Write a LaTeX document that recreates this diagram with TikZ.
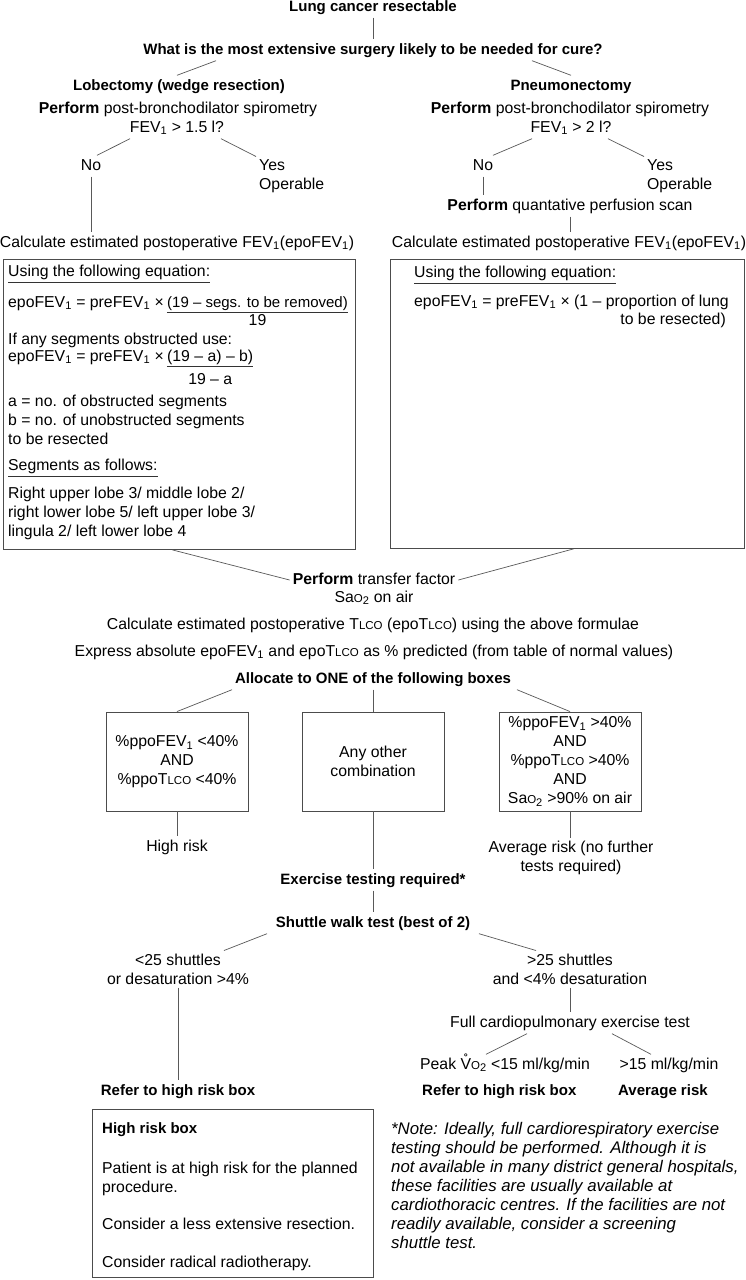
\documentclass[tikz,border=0pt]{standalone}
\usepackage{fontspec}
\setmainfont{Liberation Sans}
\usetikzlibrary{calc}
\newcommand\fsz{\fontsize{15.8}{19}\selectfont}
\newcommand\bsz{\fontsize{15}{19}\selectfont\bfseries}
\newcommand\nsz{\fontsize{16.8}{19}\selectfont}
\newcommand\smc[1]{{\fontsize{11.5}{12}\selectfont #1}}
\newcommand\tlco{T\smc{LCO}}
\newcommand\sao{Sa\smc{O}\textsubscript{2}}
\newcommand\vring{V\char"030A}
\begin{document}
\begin{tikzpicture}[x=1pt,y=-1pt,
  txt/.style={font=\fsz, inner sep=3pt, text height=11.5pt, text depth=3.5pt},
  btxt/.style={font=\bsz, inner sep=3pt, text height=11.5pt, text depth=3.5pt},
  mtxt/.style={font=\fsz, inner sep=0pt},
  lnk/.style={draw=black!65, line width=0.7pt},
  ulin/.style={draw=black!80, line width=0.7pt},
  boxs/.style={draw=black!70, line width=0.9pt, inner sep=0pt}]
\useasboundingbox (0,0) rectangle (746,1280);
\fill[white] (0,0) rectangle (746,1280);
% top
\node[btxt] (lcr) at (373,7) {Lung cancer resectable};
\node[btxt] (what) at (373,50) {What is the most extensive surgery likely to be needed for cure?};
\node[btxt] (lob) at (179,86) {Lobectomy (wedge resection)};
\node[btxt] (pneu) at (571,86) {Pneumonectomy};
\draw[lnk] (lcr) -- (what);
\draw[lnk] ([xshift=-157pt]what.south) -- ([xshift=-2pt]lob.north);
\draw[lnk] ([xshift=159pt]what.south) -- (pneu.north);
% left branch
\node[txt] (pfl) at (178,109) {\textbf{Perform} post-bronchodilator spirometry};
\node[txt] (fevl) at (177,128) {FEV\textsubscript{1} > 1.5 l?};
\node[txt] (nol) at (91,166) {No};
\node[mtxt, align=left, anchor=north west, inner sep=3pt] (yesl) at (256,156.5) {Yes\\Operable};
\node[txt] (calcl) at (177,243) {Calculate estimated postoperative FEV\textsubscript{1}(epoFEV\textsubscript{1})};
\draw[lnk] ([xshift=-47pt]fevl.south) -- ([xshift=6pt]nol.north);
\draw[lnk] ([xshift=44pt]fevl.south) -- (yesl.north west);
\draw[lnk] (nol.south) -- (nol.south |- calcl.north);
% right branch
\node[txt] (pfr) at (570,109) {\textbf{Perform} post-bronchodilator spirometry};
\node[txt] (fevr) at (571,128) {FEV\textsubscript{1} > 2 l?};
\node[txt] (nor) at (483,166) {No};
\node[mtxt, align=left, anchor=north west, inner sep=3pt] (yesr) at (644,156.5) {Yes\\Operable};
\node[txt] (perf) at (570,206) {\textbf{Perform} quantative perfusion scan};
\node[txt] (calcr) at (569,243) {Calculate estimated postoperative FEV\textsubscript{1}(epoFEV\textsubscript{1})};
\draw[lnk] ([xshift=-39pt]fevr.south) -- ([xshift=10pt]nor.north);
\draw[lnk] ([xshift=37pt]fevr.south) -- (yesr.north west);
\draw[lnk] (nor.south) -- (nor.south |- perf.north);
\draw[lnk] (perf.south) -- (perf.south |- calcr.north);
% left box
\node[boxs, minimum width=352pt, minimum height=290pt, anchor=north west] (lbox) at (3,259) {};
\node[txt, inner sep=0pt, anchor=west] (ul1) at (8,272) {Using the following equation:};
\draw[ulin] ([yshift=-3pt]ul1.south west) -- ([yshift=-3pt]ul1.south east);
\node[txt, inner sep=0pt, anchor=west] (eq1) at (8,303) {epoFEV\textsubscript{1} = preFEV\textsubscript{1} ×};
\node[txt, inner sep=0pt, anchor=west, font=\fontsize{15}{19}\selectfont] (num1) at ([xshift=3pt]eq1.east) {(19 – segs. to be removed)};
\draw[ulin] ([yshift=-1.5pt]num1.south west) -- ([yshift=-1.5pt]num1.south east);
\node[txt, inner sep=0pt] (den1) at ($(num1.center)+(0,18)$) {19};
\node[txt, inner sep=0pt, anchor=west] (ifany) at (8,340) {If any segments obstructed use:};
\node[txt, inner sep=0pt, anchor=west] (eq2) at (8,357) {epoFEV\textsubscript{1} = preFEV\textsubscript{1} ×};
\node[txt, inner sep=0pt, anchor=west] (num2) at ([xshift=3pt]eq2.east) {(19 – a) – b)};
\draw[ulin] ([yshift=-1.5pt]num2.south west) -- ([yshift=-1.5pt]num2.south east);
\node[txt, inner sep=0pt] (den2) at ($(num2.center)+(0,23)$) {19 – a};
\node[mtxt, align=left, anchor=north west] (defs) at (8,394.5) {a = no. of obstructed segments\\b = no. of unobstructed segments\\to be resected};
\node[txt, inner sep=0pt, anchor=west] (ul2) at (8,466) {Segments as follows:};
\draw[ulin] ([yshift=-3pt]ul2.south west) -- ([yshift=-3pt]ul2.south east);
\node[mtxt, align=left, anchor=north west] (segs) at (8,486.5) {Right upper lobe 3/ middle lobe 2/\\right lower lobe 5/ left upper lobe 3/\\lingula 2/ left lower lobe 4};
% right box
\node[boxs, minimum width=354pt, minimum height=289pt, anchor=north west] (rbox) at (390,259) {};
\node[txt, inner sep=0pt, anchor=west] (ul3) at (414,273) {Using the following equation:};
\draw[ulin] ([yshift=-3pt]ul3.south west) -- ([yshift=-3pt]ul3.south east);
\node[txt, inner sep=0pt, anchor=west] (eq3) at (414,302) {epoFEV\textsubscript{1} = preFEV\textsubscript{1} × (1 – proportion of lung};
\node[txt, inner sep=0pt, anchor=east] (eq3b) at (726,320) {to be resected)};
% transfer factor
\node[txt] (ptf) at (374,580) {\textbf{Perform} transfer factor};
\draw[lnk] ([xshift=-7pt]lbox.south) -- (ptf.west);
\draw[lnk] ([xshift=6pt]rbox.south) -- (ptf.east);
\node[txt] (sao) at (374,598) {\sao{} on air};
\node[txt] (calc2) at (373,625) {Calculate estimated postoperative \tlco{} (epo\tlco) using the above formulae};
\node[txt] (expr) at (374,652) {Express absolute epoFEV\textsubscript{1} and epo\tlco{} as \% predicted (from table of normal values)};
\node[btxt] (alloc) at (373,679) {Allocate to ONE of the following boxes};
% three boxes
\node[boxs, font=\fsz, align=center, minimum width=142pt, minimum height=99pt] (c1) at (177,761.5) {\%ppoFEV\textsubscript{1} <40\%\\AND\\\%ppo\tlco{} <40\%};
\node[boxs, font=\fsz, align=center, minimum width=142pt, minimum height=99pt] (c2) at (373,761.5) {Any other\\combination};
\node[boxs, font=\fsz, align=center, minimum width=142pt, minimum height=99pt] (c3) at (570,761.5) {\%ppoFEV\textsubscript{1} >40\%\\AND\\\%ppo\tlco{} >40\%\\AND\\\sao{} >90\% on air};
\draw[lnk] ([xshift=-141pt]alloc.south) -- (c1.north);
\draw[lnk] (alloc.south) -- (c2.north);
\draw[lnk] ([xshift=144pt]alloc.south) -- (c3.north);
\node[txt] (hr) at (177,847) {High risk};
\draw[lnk] (c1.south) -- (hr.north);
\node[mtxt, align=center, anchor=north, inner sep=3pt] (avg) at (571,837.5) {Average risk (no further\\tests required)};
\draw[lnk] (c3.south) -- (c3.south |- avg.north);
\node[btxt] (ext) at (373,880) {Exercise testing required*};
\draw[lnk] (c2.south) -- (ext.north);
\node[btxt] (swt) at (373,923) {Shuttle walk test (best of 2)};
\draw[lnk] (ext.south) -- (swt.north);
% shuttle branches
\node[mtxt, align=center, anchor=north, inner sep=3pt] (l25) at (178,950.5) {<25 shuttles\\or desaturation >4\%};
\node[mtxt, align=center, anchor=north, inner sep=3pt] (g25) at (570,950.5) {>25 shuttles\\and <4\% desaturation};
\draw[lnk] ([xshift=-106pt]swt.south) -- ([xshift=46pt]l25.north);
\draw[lnk] ([xshift=106pt]swt.south) -- ([xshift=-34pt]g25.north);
\node[btxt] (ref1) at (178,1091) {Refer to high risk box};
\draw[lnk] (l25.south) -- (ref1.north);
\node[txt] (fcp) at (570,1023) {Full cardiopulmonary exercise test};
\draw[lnk] (g25.south) -- (fcp.north);
\node[txt] (peak) at (505,1065) {Peak \vring{}\smc{O}\textsubscript{2} <15 ml/kg/min};
\node[txt] (gt15) at (669,1065) {>15 ml/kg/min};
\draw[lnk] ([xshift=-43pt]fcp.south) -- ([xshift=-19pt]peak.north);
\draw[lnk] ([xshift=42pt]fcp.south) -- ([xshift=-18pt]gt15.north);
\node[btxt, anchor=west] (ref2) at (419,1091) {Refer to high risk box};
\node[btxt, anchor=west] (avr) at (615,1091) {Average risk};
% high risk box
\node[boxs, minimum width=281pt, minimum height=168pt, anchor=north west] (hrb) at (92,1109) {};
\node[btxt, inner sep=0pt, anchor=west] (hrt) at (102,1129) {High risk box};
\node[mtxt, align=left, anchor=north west] (hr1) at (102,1161.5) {Patient is at high risk for the planned\\procedure.};
\node[txt, inner sep=0pt, anchor=west] (hr2) at (102,1225) {Consider a less extensive resection.};
\node[txt, inner sep=0pt, anchor=west] (hr3) at (102,1263) {Consider radical radiotherapy.};
% note
\node[font=\nsz\itshape, align=left, anchor=north west, inner sep=0pt] (note) at (391,1122.5) {*Note: Ideally, full cardiorespiratory exercise\\testing should be performed. Although it is\\not available in many district general hospitals,\\these facilities are usually available at\\cardiothoracic centres. If the facilities are not\\readily available, consider a screening\\shuttle test.};
\end{tikzpicture}
\end{document}
